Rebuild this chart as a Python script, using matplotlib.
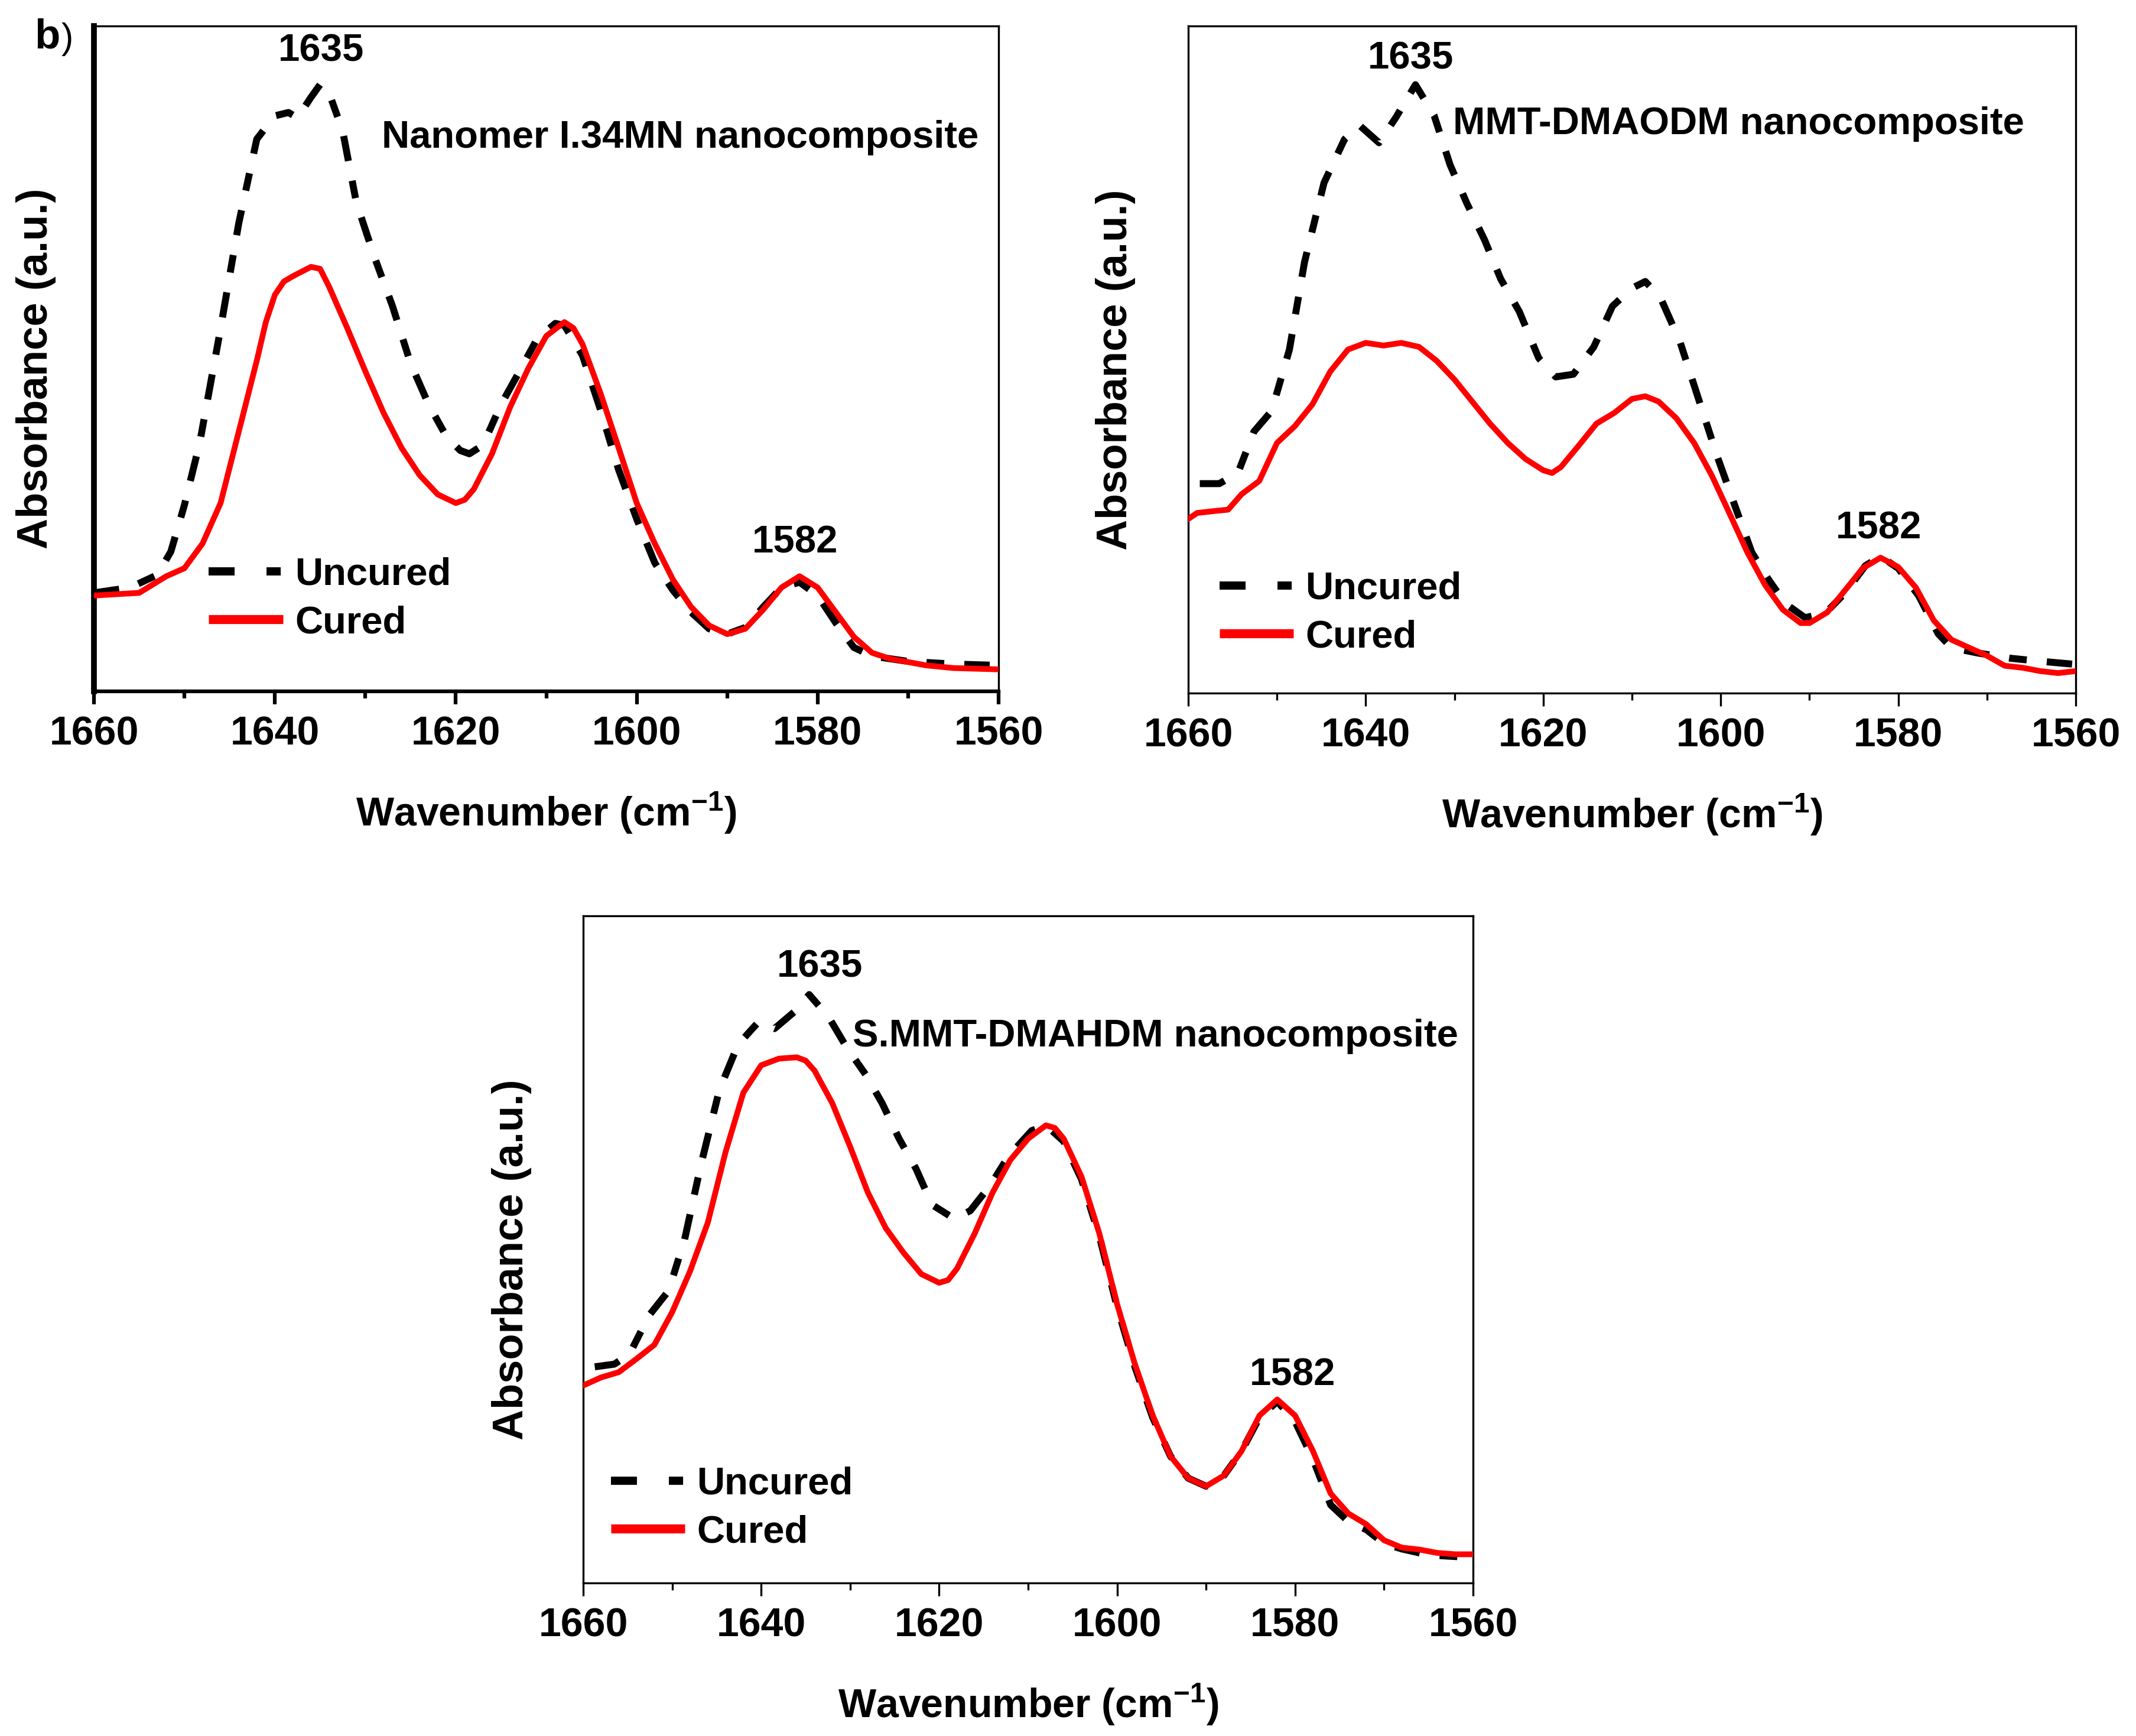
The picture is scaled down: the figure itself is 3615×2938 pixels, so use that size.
import numpy as np
import matplotlib
matplotlib.use("Agg")
import matplotlib.pyplot as plt
from matplotlib.lines import Line2D

plt.rcParams['font.family'] = ['Liberation Sans', 'DejaVu Sans']
plt.rcParams['font.weight'] = 'bold'
plt.rcParams['mathtext.fontset'] = 'custom'
plt.rcParams['mathtext.rm'] = 'Liberation Sans:bold'
plt.rcParams['mathtext.bf'] = 'Liberation Sans:bold'
plt.rcParams['lines.scale_dashes'] = False

# ---- data (absorbance in arbitrary units) ----
p1_cured_x = [1660, 1655, 1652, 1650, 1648, 1646, 1644, 1642, 1641, 1640, 1639, 1638, 1636, 1635, 1634,
              1632, 1630, 1628, 1626, 1624, 1622, 1620, 1619, 1618, 1616, 1614, 1612, 1610, 1608, 1607,
              1606, 1604, 1602, 1600, 1598, 1596, 1594, 1592, 1590, 1588, 1586, 1584, 1582, 1580, 1578,
              1576, 1574, 1572, 1570, 1568, 1565, 1560]
p1_cured_y = [0.144, 0.148, 0.173, 0.185, 0.222, 0.283, 0.390, 0.497, 0.555, 0.596, 0.616, 0.624, 0.638,
              0.635, 0.608, 0.546, 0.481, 0.419, 0.366, 0.325, 0.296, 0.283, 0.288, 0.304, 0.357, 0.427,
              0.485, 0.534, 0.555, 0.546, 0.522, 0.448, 0.366, 0.283, 0.222, 0.168, 0.127, 0.099, 0.086,
              0.094, 0.123, 0.156, 0.173, 0.156, 0.119, 0.082, 0.058, 0.049, 0.044, 0.039, 0.035, 0.033]
p1_uncured_x = [1660, 1656, 1653, 1651.5, 1650, 1648.3, 1646.1, 1644, 1642, 1640, 1638.5, 1637.5, 1636,
                1635, 1634, 1632.5, 1631, 1629, 1627, 1625, 1623, 1621, 1619.5, 1618.5, 1617, 1615, 1613,
                1611, 1609, 1608, 1606, 1604, 1602, 1600, 1598, 1596, 1594, 1592, 1590, 1588, 1586, 1584,
                1582, 1580, 1578, 1576, 1574, 1570, 1565, 1560]
p1_uncured_y = [0.148, 0.156, 0.175, 0.210, 0.280, 0.374, 0.538, 0.703, 0.830, 0.865, 0.870, 0.862, 0.893,
                0.912, 0.899, 0.842, 0.735, 0.653, 0.579, 0.493, 0.431, 0.382, 0.362, 0.357, 0.370, 0.431,
                0.480, 0.530, 0.553, 0.550, 0.505, 0.423, 0.333, 0.259, 0.193, 0.152, 0.119, 0.094, 0.086,
                0.096, 0.127, 0.156, 0.164, 0.144, 0.103, 0.066, 0.053, 0.045, 0.041, 0.039]

p2_cured_x = [1660, 1659, 1657, 1655.5, 1654, 1652, 1650, 1648, 1646, 1644, 1642, 1640, 1638, 1636, 1634,
              1632, 1630, 1628, 1626, 1624, 1622, 1620, 1619, 1618, 1616, 1614, 1612, 1610, 1608.5, 1607,
              1605, 1603, 1601, 1599, 1597, 1595, 1593, 1591, 1590, 1588, 1586, 1584, 1582, 1580, 1578,
              1576, 1574, 1572, 1570, 1568, 1566, 1564, 1562, 1560]
p2_cured_y = [0.261, 0.270, 0.273, 0.275, 0.298, 0.318, 0.375, 0.400, 0.433, 0.482, 0.515, 0.525, 0.521,
              0.525, 0.519, 0.498, 0.470, 0.437, 0.404, 0.375, 0.351, 0.334, 0.330, 0.339, 0.371, 0.404,
              0.420, 0.441, 0.445, 0.437, 0.412, 0.375, 0.326, 0.269, 0.211, 0.162, 0.125, 0.105, 0.105,
              0.121, 0.154, 0.187, 0.203, 0.189, 0.158, 0.109, 0.080, 0.068, 0.056, 0.041, 0.038, 0.033,
              0.030, 0.033]
p2_uncured_x = [1658.7, 1656.5, 1654.4, 1652.6, 1650.6, 1648.6, 1646.9, 1644.7, 1642.4, 1640.7, 1638.5,
                1636.6, 1634.4, 1632.3, 1630.5, 1628.6, 1626.6, 1624.8, 1622.7, 1620.5, 1618.6, 1616.6,
                1614.3, 1612.2, 1610.0, 1608.5, 1606.8, 1604.6, 1602.6, 1600.4, 1598.3, 1596.5, 1594.6,
                1592.7, 1590.5, 1588.2, 1586.0, 1583.7, 1582.0, 1580.0, 1577.7, 1575.5, 1574.0, 1571.0,
                1567.2, 1564.2, 1560.0]
p2_uncured_y = [0.314, 0.314, 0.330, 0.392, 0.423, 0.515, 0.646, 0.765, 0.830, 0.851, 0.825, 0.863, 0.912,
                0.866, 0.792, 0.734, 0.679, 0.621, 0.572, 0.502, 0.474, 0.478, 0.519, 0.580, 0.607, 0.617,
                0.593, 0.527, 0.445, 0.355, 0.277, 0.211, 0.170, 0.134, 0.113, 0.120, 0.150, 0.191, 0.205,
                0.187, 0.146, 0.089, 0.068, 0.060, 0.052, 0.048, 0.043]

p3_cured_x = [1660, 1658, 1656, 1654, 1652, 1650, 1648, 1646, 1644, 1642, 1640, 1638, 1636, 1635, 1634,
              1632, 1630, 1628, 1626, 1624, 1622, 1620, 1619, 1618, 1616, 1614, 1612, 1610, 1608, 1607,
              1606, 1604, 1602, 1600, 1598, 1596, 1594, 1592, 1590, 1588, 1586, 1584, 1582, 1580, 1578,
              1576, 1574, 1572, 1570, 1568, 1566, 1564, 1562, 1560]
p3_cured_y = [0.296, 0.308, 0.316, 0.336, 0.357, 0.406, 0.467, 0.540, 0.646, 0.735, 0.776, 0.786, 0.788,
              0.783, 0.768, 0.719, 0.654, 0.585, 0.532, 0.495, 0.463, 0.450, 0.454, 0.471, 0.524, 0.585,
              0.634, 0.666, 0.686, 0.682, 0.666, 0.609, 0.524, 0.418, 0.328, 0.251, 0.190, 0.157, 0.145,
              0.161, 0.198, 0.251, 0.275, 0.251, 0.198, 0.134, 0.104, 0.088, 0.064, 0.053, 0.050, 0.045,
              0.043, 0.043]
p3_uncured_x = [1658.7, 1656.5, 1654.8, 1652.6, 1650.4, 1648.6, 1646.8, 1644.7, 1642.6, 1640.3, 1638.5,
                1636.2, 1634.6, 1632.4, 1630.4, 1628.2, 1626.4, 1624.5, 1622.6, 1620.8, 1618.3, 1616.5,
                1614.2, 1612.2, 1609.6, 1608.0, 1606, 1604, 1602, 1600, 1598, 1596, 1594, 1592, 1590,
                1588, 1586, 1584, 1582, 1580, 1578, 1576, 1574, 1572, 1570, 1568, 1565, 1560]
p3_uncured_y = [0.324, 0.328, 0.343, 0.401, 0.438, 0.515, 0.625, 0.739, 0.807, 0.841, 0.831, 0.857, 0.882,
                0.848, 0.803, 0.761, 0.719, 0.666, 0.621, 0.567, 0.546, 0.558, 0.597, 0.640, 0.678, 0.686,
                0.662, 0.605, 0.520, 0.414, 0.324, 0.248, 0.190, 0.157, 0.145, 0.161, 0.198, 0.248, 0.272,
                0.242, 0.186, 0.117, 0.092, 0.080, 0.059, 0.051, 0.042, 0.038]

titles = ['Nanomer I.34MN nanocomposite', 'MMT-DMAODM nanocomposite', 'S.MMT-DMAHDM nanocomposite']
peak_labels = ['1635', '1582']
series_names = ['Uncured', 'Cured']
xticks = [1660, 1640, 1620, 1600, 1580, 1560]

# ---- layout (pixels in the 3615 x 2938 figure) ----
W, H = 3615, 2938
FS = 47
DASH_CURVE = (31, 24.5, 21.6, 24.5)
DASH_LEG = (31.7, 38.9, 17.3, 60)

fig = plt.figure(figsize=(W / 100, H / 100), dpi=100)


def add_ax(l, t, r, b):
    return fig.add_axes([l / W, 1 - b / H, (r - l) / W, (b - t) / H])


def draw_panel(ax, xu, yu, xc, yc, title, title_pos, p1_pos, p2_pos, leg_pos, ylab_x, spine_w):
    ax.plot(xu, yu, color='black', lw=8.5, dashes=DASH_CURVE, dash_capstyle='butt', zorder=2)
    ax.plot(xc, yc, color='red', lw=7, zorder=3, solid_joinstyle='round')
    ax.set_xlim(1660, 1560)
    ax.set_ylim(0, 1)
    ax.set_yticks([])
    ax.set_xticks(xticks)
    ax.set_xticks(np.arange(1560, 1661, 10), minor=True)
    ax.tick_params(axis='x', which='major', direction='out', length=16, width=spine_w[1],
                   labelsize=49, pad=13)
    ax.tick_params(axis='x', which='minor', direction='out', length=8.5, width=spine_w[1])
    for lab in ax.get_xticklabels():
        lab.set_fontweight('bold')
    ax.spines['left'].set_linewidth(spine_w[0])
    ax.spines['bottom'].set_linewidth(spine_w[1])
    ax.spines['top'].set_linewidth(2.4)
    ax.spines['right'].set_linewidth(2.4)

    ax.set_xlabel('Wavenumber (cm$^{-1}$)', fontsize=49, fontweight='bold', labelpad=46)
    ax.set_ylabel('Absorbance (a.u.)', fontsize=52, fontweight='bold')
    ax.yaxis.set_label_coords(ylab_x, 0.485)

    ax.text(title_pos[0], title_pos[1], title, transform=ax.transAxes, ha='right',
            va='baseline', fontsize=FS, fontweight='bold')
    ax.text(p1_pos[0], p1_pos[1], peak_labels[0], transform=ax.get_xaxis_transform(),
            ha='center', va='baseline', fontsize=FS, fontweight='bold')
    ax.text(p2_pos[0], p2_pos[1], peak_labels[1], transform=ax.get_xaxis_transform(),
            ha='center', va='baseline', fontsize=FS, fontweight='bold')

    h_unc = Line2D([], [], color='black', lw=10, dashes=DASH_LEG, dash_capstyle='butt')
    h_cur = Line2D([], [], color='red', lw=11, solid_capstyle='butt')
    ax.legend([h_unc, h_cur], series_names, loc='center left', bbox_to_anchor=leg_pos,
              frameon=False, handlelength=1.92, handletextpad=0.31,
              labelspacing=0.33, borderpad=0, borderaxespad=0,
              prop={'weight': 'bold', 'size': FS})


ax1 = add_ax(159, 44, 1690, 1170)
draw_panel(ax1, p1_uncured_x, p1_uncured_y, p1_cured_x, p1_cured_y, titles[0],
           (0.978, 0.817), (1634.9, 0.947), (1582.5, 0.208), (0.127, 0.139), -0.042, (7, 4.5))

ax2 = add_ax(2011, 44, 3513, 1173)
draw_panel(ax2, p2_uncured_x, p2_uncured_y, p2_cured_x, p2_cured_y, titles[1],
           (0.942, 0.838), (1634.9, 0.936), (1582.2, 0.232), (0.035, 0.120), -0.059, (2.4, 2.4))

ax3 = add_ax(987, 1550, 2493, 2679)
draw_panel(ax3, p3_uncured_x, p3_uncured_y, p3_cured_x, p3_cured_y, titles[2],
           (0.983, 0.804), (1633.4, 0.908), (1580.3, 0.296), (0.031, 0.112), -0.058, (2.4, 2.4))

fig.text(58 / W, 1 - 82 / H, 'b', fontsize=51, fontweight='bold', va='baseline')
fig.text(104 / W, 1 - 82 / H, ')', fontsize=44, fontweight='normal', va='baseline')

fig.savefig('out.png', dpi=100, facecolor='white')
